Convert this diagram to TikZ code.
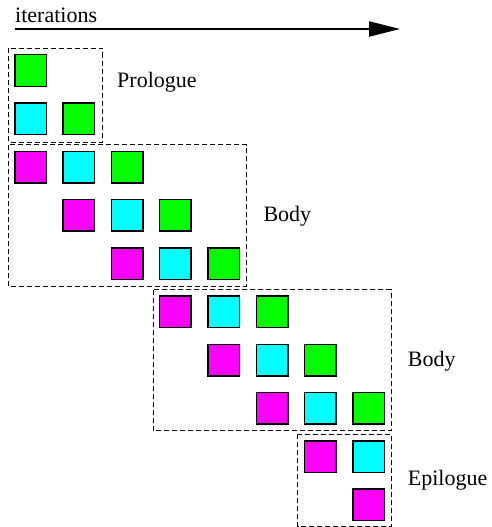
\documentclass[tikz,border=0pt]{standalone}
\usepackage{fontspec}
\setmainfont{Liberation Serif}
\newfontfamily\tnr{Liberation Serif}
\usetikzlibrary{arrows.meta}
\definecolor{cmag}{RGB}{255,0,255}
\definecolor{ccyan}{RGB}{0,255,255}
\definecolor{cgreen}{RGB}{0,255,0}
\begin{document}
\begin{tikzpicture}[x=1pt,y=-1pt,
  sq/.style={draw=black,line width=1.5pt,minimum size=31.5pt,inner sep=0pt,outer sep=0pt},
  mag/.style={sq,fill=cmag},
  cya/.style={sq,fill=ccyan},
  gre/.style={sq,fill=cgreen},
  grp/.style={draw=black,line width=0.9pt,dash pattern=on 5pt off 3pt},
  lbl/.style={anchor=base west,inner sep=0pt,font=\tnr\fontsize{22}{26}\selectfont}
]
\useasboundingbox (0,0) rectangle (492,527);
% header
\node[lbl] (iter) at (15,22.3) {iterations};
\coordinate (as) at (15,29);
\coordinate (ae) at (400,29);
\draw[line width=2pt,-{Triangle[length=31pt,width=15pt]}] (as) -- (ae);
% squares: center x = 30.5+48.3c, y = 70.5+48.25r
\def\cx#1{30.5+48.3*#1}
\def\cy#1{70.5+48.25*#1}
% prologue
\node[gre] (p00) at ({\cx0},{\cy0}) {};
\node[cya] (p10) at ({\cx0},{\cy1}) {};
\node[gre] (p11) at ({\cx1},{\cy1}) {};
% body 1
\node[mag] (a20) at ({\cx0},{\cy2}) {};
\node[cya] (a21) at ({\cx1},{\cy2}) {};
\node[gre] (a22) at ({\cx2},{\cy2}) {};
\node[mag] (a31) at ({\cx1},{\cy3}) {};
\node[cya] (a32) at ({\cx2},{\cy3}) {};
\node[gre] (a33) at ({\cx3},{\cy3}) {};
\node[mag] (a42) at ({\cx2},{\cy4}) {};
\node[cya] (a43) at ({\cx3},{\cy4}) {};
\node[gre] (a44) at ({\cx4},{\cy4}) {};
% body 2
\node[mag] (b53) at ({\cx3},{\cy5}) {};
\node[cya] (b54) at ({\cx4},{\cy5}) {};
\node[gre] (b55) at ({\cx5},{\cy5}) {};
\node[mag] (b64) at ({\cx4},{\cy6}) {};
\node[cya] (b65) at ({\cx5},{\cy6}) {};
\node[gre] (b66) at ({\cx6},{\cy6}) {};
\node[mag] (b75) at ({\cx5},{\cy7}) {};
\node[cya] (b76) at ({\cx6},{\cy7}) {};
\node[gre] (b77) at ({\cx7},{\cy7}) {};
% epilogue
\node[mag] (e86) at ({\cx6},{\cy8}) {};
\node[cya] (e87) at ({\cx7},{\cy8}) {};
\node[mag] (e97) at ({\cx7},{\cy9}) {};
% group boxes
\draw[grp] (8.5,48) rectangle (102,142);
\draw[grp] (8.5,144.5) rectangle (246,286);
\draw[grp] (153,289.5) rectangle (391,430.5);
\draw[grp] (297.5,434) rectangle (391,526.5);
% labels
\node[lbl] (lp) at (117,87.3) {Prologue};
\node[lbl] (lb1) at (263.3,221.7) {Body};
\node[lbl] (lb2) at (407.7,366) {Body};
\node[lbl] (le) at (407.7,485) {Epilogue};
\end{tikzpicture}
\end{document}
